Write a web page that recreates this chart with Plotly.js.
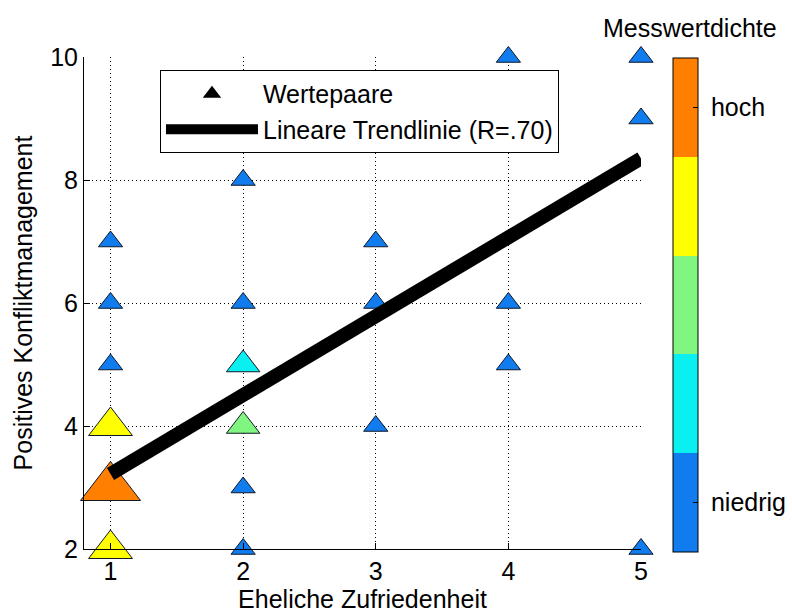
<!DOCTYPE html>
<html>
<head>
<meta charset="utf-8">
<script src="https://cdn.plot.ly/plotly-3.0.1.min.js"></script>
<style>html,body{margin:0;padding:0;background:#fff;}#chart{width:792px;height:614px;}</style>
</head>
<body>
<div id="chart"></div>
<script>
// Data
var zufriedenheit = [1, 1, 1, 1, 1, 1, 2, 2, 2, 2, 2, 2, 3, 3, 3, 4, 4, 4, 5, 5, 5];
var konflikt      = [7, 6, 5, 4, 3, 2, 8, 6, 5, 4, 3, 2, 7, 6, 4, 10, 6, 5, 10, 9, 2];
// density class 1 (niedrig) .. 5 (hoch)
var dichte        = [1, 1, 1, 4, 5, 4, 1, 1, 2, 3, 1, 1, 1, 1, 1, 1, 1, 1, 1, 1, 1];
var trendX = [1, 5];
var trendY = [3.22, 8.35];
var dichteLabels = ['\u00a0niedrig', '\u00a0hoch'];
var dichteTicks = [1, 5];

var bandColors = ['rgb(16,124,238)', 'rgb(10,240,240)', 'rgb(128,245,128)', 'rgb(255,255,0)', 'rgb(255,128,0)'];
var sizeByDichte = {1: 21, 2: 29, 3: 29, 4: 38, 5: 52};
var sizes = dichte.map(function (d) { return sizeByDichte[d]; });

var colorscale = [];
for (var i = 0; i < 5; i++) {
  colorscale.push([i / 5, bandColors[i]]);
  colorscale.push([(i + 1) / 5, bandColors[i]]);
}

var font = {family: 'Arial, "Liberation Sans", sans-serif', size: 25, color: '#000'};

var traces = [
  {
    type: 'scatter', mode: 'markers', x: zufriedenheit, y: konflikt,
    showlegend: false, cliponaxis: false, hoverinfo: 'x+y',
    marker: {
      symbol: 'triangle-up', size: sizes, color: dichte, opacity: 1,
      colorscale: colorscale, cmin: 0.5, cmax: 5.5,
      line: {color: '#101828', width: 1},
      showscale: true,
      colorbar: {
        thickness: 25, thicknessmode: 'pixels',
        len: 494, lenmode: 'pixels',
        x: 1.0575, xanchor: 'left', xpad: 0,
        y: 0.496, yanchor: 'middle', ypad: 0,
        outlinewidth: 1, outlinecolor: '#000',
        tickvals: dichteTicks, ticktext: dichteLabels,
        ticks: 'inside', ticklen: 5, tickcolor: '#000',
        tickfont: font
      }
    }
  },
  {
    type: 'scatter', mode: 'markers', x: [null], y: [null], name: 'Wertepaare',
    marker: {symbol: 'triangle-up', size: 20, color: '#000'}
  },
  {
    type: 'scatter', mode: 'lines', x: trendX, y: trendY,
    name: 'Lineare Trendlinie (R=.70)',
    line: {color: '#000', width: 14}
  }
];

var axisCommon = {
  showline: true, linecolor: '#000', linewidth: 1,
  ticks: 'inside', ticklen: 6, tickcolor: '#000',
  showgrid: true, gridcolor: '#000', gridwidth: 1, griddash: '1px,3px',
  zeroline: false, tickfont: font, mirror: false
};

var layout = {
  width: 792, height: 614,
  margin: {l: 84, r: 151, t: 57, b: 65, autoexpand: false},
  paper_bgcolor: '#fff', plot_bgcolor: '#fff',
  font: font,
  xaxis: Object.assign({}, axisCommon, {
    range: [0.8, 5], tickvals: [1, 2, 3, 4, 5],
    title: {text: 'Eheliche Zufriedenheit', font: font, standoff: 6}
  }),
  yaxis: Object.assign({}, axisCommon, {
    range: [2, 10], tickvals: [2, 4, 6, 8, 10],
    title: {text: 'Positives Konfliktmanagement', font: font, standoff: 10}
  }),
  legend: {
    x: 0.1364, y: 0.9736, xanchor: 'left', yanchor: 'top',
    bgcolor: '#fff', bordercolor: '#000', borderwidth: 1,
    font: font, itemwidth: 92, tracegroupgap: 0
  },
  annotations: [{
    text: 'Messwertdichte', xref: 'paper', yref: 'paper',
    x: 1.088, y: 1.059, xanchor: 'center', yanchor: 'middle',
    showarrow: false, font: font
  }]
};

Plotly.newPlot('chart', traces, layout, {displayModeBar: false, staticPlot: true});
</script>
</body>
</html>
